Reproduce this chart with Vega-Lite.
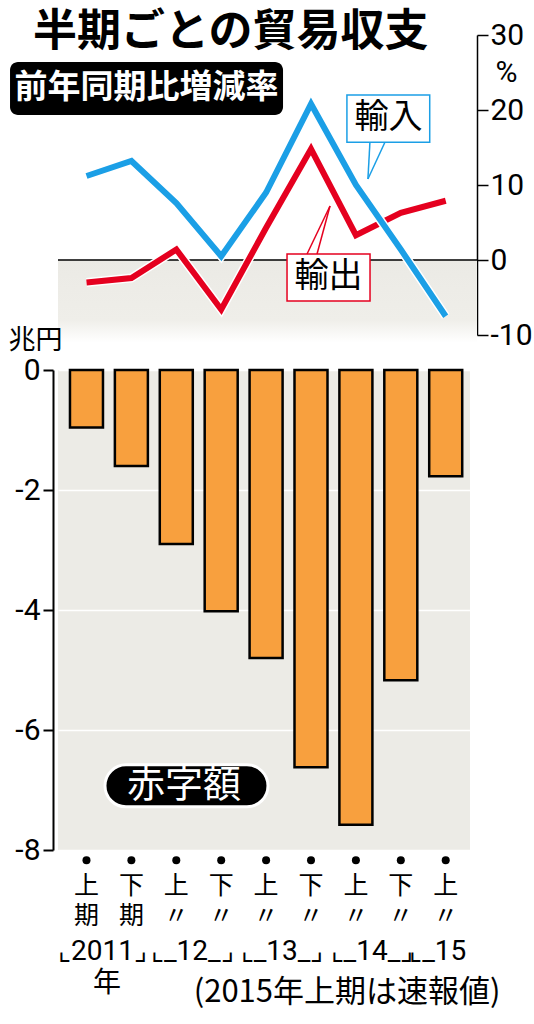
{
  "$schema": "https://vega.github.io/schema/vega-lite/v6.json",
  "background": "white",
  "padding": {"left": 8, "top": 11, "right": 4, "bottom": 4},
  "title": {
    "text": "半期ごとの貿易収支",
    "anchor": "start",
    "frame": "group",
    "font": "Noto Sans CJK JP",
    "fontSize": 44,
    "fontWeight": "bold",
    "color": "black",
    "offset": -35,
    "dx": -25
  },
  "datasets": {
    "halves": [
      {"period": "2011上", "balance": -0.96, "exports": -3.0, "imports": 11.2},
      {"period": "2011下", "balance": -1.6, "exports": -2.4, "imports": 13.2},
      {"period": "2012上", "balance": -2.9, "exports": 1.4, "imports": 7.6},
      {"period": "2012下", "balance": -4.02, "exports": -6.6, "imports": 0.5},
      {"period": "2013上", "balance": -4.8, "exports": 4.3, "imports": 9.0},
      {"period": "2013下", "balance": -6.62, "exports": 14.8, "imports": 20.8},
      {"period": "2014上", "balance": -7.58, "exports": 3.3, "imports": 10.0},
      {"period": "2014下", "balance": -5.17, "exports": 6.3, "imports": 1.4},
      {"period": "2015上", "balance": -1.77, "exports": 7.9, "imports": -7.5}
    ],
    "years": [
      {"period": "2011上", "label": "⌞2011⌟"},
      {"period": "2012上", "label": "⌞_12_⌟"},
      {"period": "2013上", "label": "⌞_13_⌟"},
      {"period": "2014上", "label": "⌞_14_⌟"},
      {"period": "2015上", "label": "⌞_15"}
    ],
    "one": [{}]
  },
  "spacing": 35,
  "bounds": "flush",
  "resolve": {"scale": {"x": "independent", "y": "independent"}},
  "config": {
    "view": {"stroke": null},
    "axis": {"labelColor": "black", "titleColor": "black", "labelOverlap": false, "labelFlush": false}
  },
  "vconcat": [
    {
      "width": 419,
      "height": 300,
      "layer": [
        {
          "data": {"name": "one"},
          "mark": {"type": "rect", "color": {"gradient": "linear", "x1": 0, "y1": 0, "x2": 0, "y2": 1, "stops": [{"offset": 0, "color": "#ebeae5"}, {"offset": 0.72, "color": "#efeee9"}, {"offset": 1, "color": "#ffffff"}]}},
          "encoding": {
            "y": {"datum": 0, "type": "quantitative", "scale": {"domain": [-10, 30], "nice": false, "zero": false},
              "axis": {"orient": "right", "values": [-10, 0, 10, 20, 30], "format": "d", "grid": false, "domainColor": "black", "domainWidth": 1.5, "tickColor": "black", "tickWidth": 1.5, "tickSize": 11, "labelFont": "Roboto", "labelFontSize": 30, "labelPadding": 2, "labelExpr": "replace(datum.label, '−', '-')", "title": "%", "titleAngle": 0, "titleX": 29, "titleY": 37, "titleAlign": "center", "titleBaseline": "middle", "titleFont": "Roboto", "titleFontSize": 30, "titleFontWeight": "normal"}},
            "y2": {"datum": -11}
          }
        },
        {
          "data": {"name": "one"},
          "mark": {"type": "rule", "color": "black", "strokeWidth": 1.5},
          "encoding": {"y": {"datum": 0, "type": "quantitative"}}
        },
        {
          "data": {"name": "halves"},
          "mark": {"type": "line", "color": "white", "strokeWidth": 9, "strokeCap": "butt", "strokeJoin": "miter"},
          "encoding": {
            "x": {"field": "period", "type": "ordinal", "sort": null, "scale": {"type": "point", "domain": ["2011上", "2011下", "2012上", "2012下", "2013上", "2013下", "2014上", "2014下", "2015上"], "padding": 0.666, "align": 0.477}, "axis": null},
            "y": {"field": "exports", "type": "quantitative"}
          }
        },
        {
          "data": {"name": "halves"},
          "mark": {"type": "line", "color": "#e5001f", "strokeWidth": 6, "strokeCap": "butt", "strokeJoin": "miter"},
          "encoding": {
            "x": {"field": "period", "type": "ordinal", "sort": null},
            "y": {"field": "exports", "type": "quantitative"}
          }
        },
        {
          "data": {"name": "halves"},
          "mark": {"type": "line", "color": "white", "strokeWidth": 9, "strokeCap": "butt", "strokeJoin": "miter"},
          "encoding": {
            "x": {"field": "period", "type": "ordinal", "sort": null},
            "y": {"field": "imports", "type": "quantitative"}
          }
        },
        {
          "data": {"name": "halves"},
          "mark": {"type": "line", "color": "#1b9fe6", "strokeWidth": 6, "strokeCap": "butt", "strokeJoin": "miter"},
          "encoding": {
            "x": {"field": "period", "type": "ordinal", "sort": null},
            "y": {"field": "imports", "type": "quantitative"}
          }
        },
        {
          "data": {"name": "one"},
          "mark": {"type": "rect", "fill": "white", "stroke": "#e5001f", "strokeWidth": 1.5, "xOffset": -24, "x2Offset": 59},
          "encoding": {
            "x": {"datum": "2013下", "type": "ordinal"},
            "x2": {"datum": "2013下"},
            "y": {"datum": 0.8, "type": "quantitative"},
            "y2": {"datum": -5.47}
          }
        },
        {
          "data": {"name": "one"},
          "mark": {"type": "rule", "color": "#e5001f", "strokeWidth": 1.5, "xOffset": -4, "x2Offset": 19},
          "encoding": {
            "x": {"datum": "2013下", "type": "ordinal"},
            "x2": {"datum": "2013下"},
            "y": {"datum": 0.8, "type": "quantitative"},
            "y2": {"datum": 7.2}
          }
        },
        {
          "data": {"name": "one"},
          "mark": {"type": "rule", "color": "#e5001f", "strokeWidth": 1.5, "xOffset": 6, "x2Offset": 19},
          "encoding": {
            "x": {"datum": "2013下", "type": "ordinal"},
            "x2": {"datum": "2013下"},
            "y": {"datum": 0.8, "type": "quantitative"},
            "y2": {"datum": 7.2}
          }
        },
        {
          "data": {"name": "one"},
          "mark": {"type": "text", "text": "輸出", "font": "Noto Sans CJK JP", "fontSize": 34, "color": "black", "align": "center", "baseline": "middle", "dx": 17.5},
          "encoding": {
            "x": {"datum": "2013下", "type": "ordinal"},
            "y": {"datum": -2.33, "type": "quantitative"}
          }
        },
        {
          "data": {"name": "one"},
          "mark": {"type": "rect", "fill": "white", "stroke": "#1b9fe6", "strokeWidth": 1.5, "xOffset": -9, "x2Offset": -16},
          "encoding": {
            "x": {"datum": "2014上", "type": "ordinal"},
            "x2": {"datum": "2015上"},
            "y": {"datum": 22.0, "type": "quantitative"},
            "y2": {"datum": 15.7}
          }
        },
        {
          "data": {"name": "one"},
          "mark": {"type": "rule", "color": "#1b9fe6", "strokeWidth": 1.5, "xOffset": 14, "x2Offset": 12},
          "encoding": {
            "x": {"datum": "2014上", "type": "ordinal"},
            "x2": {"datum": "2014上"},
            "y": {"datum": 15.7, "type": "quantitative"},
            "y2": {"datum": 10.8}
          }
        },
        {
          "data": {"name": "one"},
          "mark": {"type": "rule", "color": "#1b9fe6", "strokeWidth": 1.5, "xOffset": 29, "x2Offset": 12},
          "encoding": {
            "x": {"datum": "2014上", "type": "ordinal"},
            "x2": {"datum": "2014上"},
            "y": {"datum": 15.7, "type": "quantitative"},
            "y2": {"datum": 10.8}
          }
        },
        {
          "data": {"name": "one"},
          "mark": {"type": "text", "text": "輸入", "font": "Noto Sans CJK JP", "fontSize": 34, "color": "black", "align": "center", "baseline": "middle", "dx": 32.6},
          "encoding": {
            "x": {"datum": "2014上", "type": "ordinal"},
            "y": {"datum": 18.87, "type": "quantitative"}
          }
        },
        {
          "data": {"name": "one"},
          "mark": {"type": "rect", "fill": "black", "cornerRadius": 8, "xOffset": -76.5, "x2Offset": 196.5},
          "encoding": {
            "x": {"datum": "2011上", "type": "ordinal"},
            "x2": {"datum": "2011上"},
            "y": {"datum": 26.4, "type": "quantitative"},
            "y2": {"datum": 19.33}
          }
        },
        {
          "data": {"name": "one"},
          "mark": {"type": "text", "text": "前年同期比増減率", "font": "Noto Sans CJK JP", "fontSize": 33, "fontWeight": "bold", "color": "white", "align": "center", "baseline": "middle", "dx": 60},
          "encoding": {
            "x": {"datum": "2011上", "type": "ordinal"},
            "y": {"datum": 22.87, "type": "quantitative"}
          }
        }
      ]
    },
    {
      "width": 412,
      "height": 480,
      "view": {"fill": "#ecebe6", "stroke": null},
      "layer": [
        {
          "data": {"name": "halves"},
          "mark": {"type": "bar", "color": "#f8a03e", "stroke": "black", "strokeWidth": 2.5},
          "encoding": {
            "x": {"field": "period", "type": "ordinal", "sort": null,
              "scale": {"type": "band", "domain": ["2011上", "2011下", "2012上", "2012下", "2013上", "2013下", "2014上", "2014下", "2015上"], "paddingInner": 0.265, "paddingOuter": 0.22, "align": 0.606},
              "axis": {"orient": "bottom", "domain": false, "ticks": false, "tickSize": 0, "labelAngle": 0, "labelExpr": "[substring(datum.value, 4, 5), substring(datum.value, 0, 4) == '2011' ? '期' : '〃']", "labelFont": "Noto Sans CJK JP", "labelFontSize": 25, "labelLineHeight": 30, "labelPadding": 23, "labelBaseline": "top",
                "title": "(2015年上期は速報値)", "titleX": 442, "titleY": 142, "titleAlign": "right", "titleBaseline": "middle", "titleAnchor": null, "titleFont": "Noto Sans CJK JP", "titleFontSize": 31, "titleFontWeight": "normal"}},
            "y": {"field": "balance", "type": "quantitative", "scale": {"domain": [-8, 0], "nice": false},
              "axis": {"orient": "left", "values": [0, -2, -4, -6, -8], "format": "d", "offset": 5, "grid": true, "gridColor": "white", "gridWidth": 1.5, "domainColor": "black", "domainWidth": 2, "tickColor": "black", "tickWidth": 2, "tickSize": 10, "labelFont": "Roboto", "labelFontSize": 30, "labelPadding": 3, "labelExpr": "replace(datum.label, '−', '-')",
                "title": "兆円", "titleAngle": 0, "titleX": -45, "titleY": -30, "titleAlign": "left", "titleBaseline": "middle", "titleFont": "Noto Sans CJK JP", "titleFontSize": 27, "titleFontWeight": "normal"}}
          }
        },
        {
          "data": {"name": "halves"},
          "mark": {"type": "circle", "color": "black", "opacity": 1, "size": 64},
          "encoding": {
            "x": {"field": "period", "type": "ordinal", "sort": null},
            "y": {"datum": -8.17, "type": "quantitative"}
          }
        },
        {
          "data": {"name": "years"},
          "transform": [{"filter": "datum.period != '2015上'"}],
          "mark": {"type": "text", "font": "Roboto", "fontSize": 28, "color": "black", "align": "center", "baseline": "middle", "dx": 16},
          "encoding": {
            "x": {"field": "period", "type": "ordinal", "sort": null},
            "y": {"datum": -9.7, "type": "quantitative"},
            "text": {"field": "label"}
          }
        },
        {
          "data": {"name": "years"},
          "transform": [{"filter": "datum.period == '2015上'"}],
          "mark": {"type": "text", "font": "Roboto", "fontSize": 28, "color": "black", "align": "center", "baseline": "middle", "dx": -8},
          "encoding": {
            "x": {"field": "period", "type": "ordinal", "sort": null},
            "y": {"datum": -9.7, "type": "quantitative"},
            "text": {"field": "label"}
          }
        },
        {
          "data": {"name": "one"},
          "mark": {"type": "text", "text": "年", "font": "Noto Sans CJK JP", "fontSize": 28, "color": "black", "align": "center", "baseline": "middle", "dx": 20.5},
          "encoding": {
            "x": {"datum": "2011上", "type": "ordinal", "bandPosition": 0.5},
            "y": {"datum": -10.23, "type": "quantitative"}
          }
        },
        {
          "data": {"name": "one"},
          "mark": {"type": "rect", "fill": "black", "stroke": "white", "strokeWidth": 3, "cornerRadius": 21, "xOffset": 35, "x2Offset": 181.5},
          "encoding": {
            "x": {"datum": "2011上", "type": "ordinal", "bandPosition": 0},
            "x2": {"datum": "2011上"},
            "y": {"datum": -6.58, "type": "quantitative"},
            "y2": {"datum": -7.28}
          }
        },
        {
          "data": {"name": "one"},
          "mark": {"type": "text", "text": "赤字額", "font": "Noto Sans CJK JP", "fontSize": 38, "color": "white", "align": "center", "baseline": "middle", "dx": 97.5},
          "encoding": {
            "x": {"datum": "2011上", "type": "ordinal", "bandPosition": 0.5},
            "y": {"datum": -6.93, "type": "quantitative"}
          }
        }
      ]
    }
  ]
}
